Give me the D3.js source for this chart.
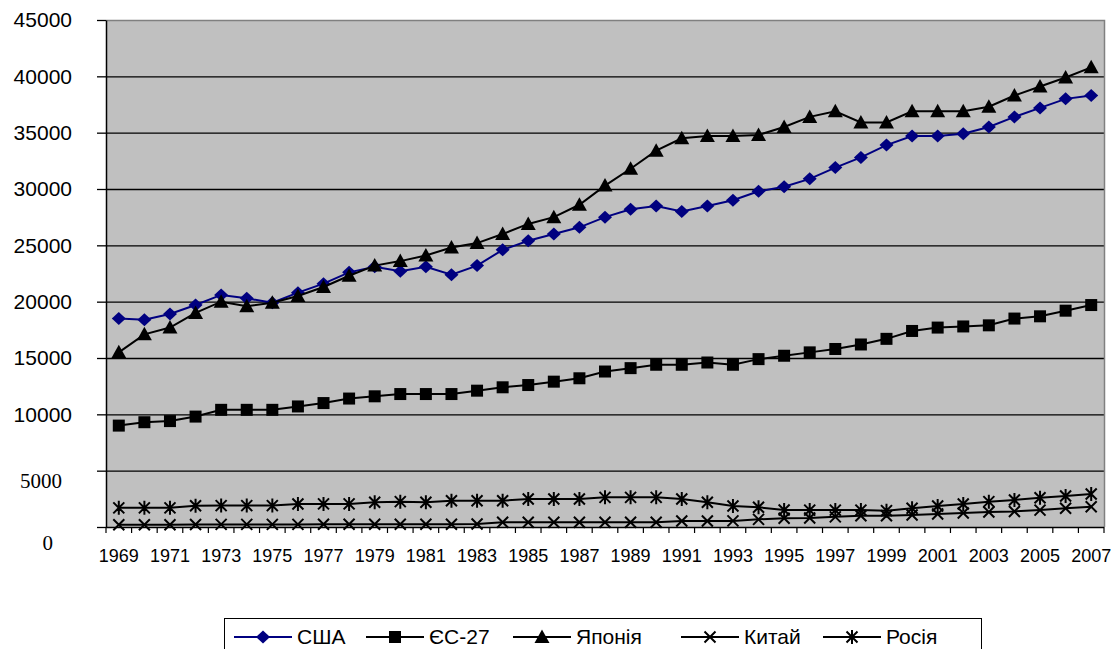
<!DOCTYPE html>
<html>
<head>
<meta charset="utf-8">
<script src="https://cdn.jsdelivr.net/npm/d3@7"></script>
<style>
  body { margin: 0; background: #fff; }
  svg { display: block; }
</style>
</head>
<body>
<div id="chart"></div>
<script>
//years on the category axis
var years = d3.range(1969, 2008);

//series values
var usa = [18500, 18400, 18900, 19700, 20600, 20300, 19900, 20800, 21600, 22600,
  23100, 22700, 23100, 22400, 23200, 24600, 25400, 26000, 26600, 27500,
  28200, 28500, 28000, 28500, 29000, 29800, 30200, 30900, 31900, 32800,
  33900, 34700, 34700, 34900, 35500, 36400, 37200, 38000, 38300];
var eu27 = [9000, 9300, 9400, 9800, 10400, 10400, 10400, 10700, 11000, 11400,
  11600, 11800, 11800, 11800, 12100, 12400, 12600, 12900, 13200, 13800,
  14100, 14400, 14400, 14600, 14400, 14900, 15200, 15500, 15800, 16200,
  16700, 17400, 17700, 17800, 17900, 18500, 18700, 19200, 19700];
var japan = [15500, 17100, 17700, 19000, 20000, 19600, 19900, 20500, 21300, 22300,
  23200, 23600, 24100, 24800, 25200, 26000, 26900, 27500, 28600, 30300,
  31800, 33400, 34500, 34700, 34700, 34800, 35500, 36400, 36900, 35900,
  35900, 36900, 36900, 36900, 37300, 38300, 39100, 39900, 40800];
var china = [200, 200, 200, 220, 230, 230, 230, 230, 240, 240,
  240, 240, 240, 240, 260, 420, 420, 420, 420, 420,
  420, 420, 530, 530, 540, 680, 770, 800, 900, 1000,
  1000, 1060, 1150, 1240, 1330, 1380, 1500, 1660, 1800];
var russia = [1700, 1700, 1700, 1890, 1900, 1900, 1900, 2040, 2050, 2050,
  2190, 2250, 2190, 2330, 2330, 2330, 2490, 2490, 2490, 2630,
  2630, 2630, 2490, 2190, 1860, 1750, 1510, 1500, 1500, 1500,
  1450, 1660, 1860, 2040, 2250, 2400, 2600, 2750, 2930];

var seriesNames = ["США", "ЄС-27", "Японія", "Китай", "Росія"];
var yTicks = [0, 5000, 10000, 15000, 20000, 25000, 30000, 35000, 40000, 45000];

//one entry per series: values + how it is drawn
var series = [
  {name: seriesNames[0], values: usa, color: "#000080", symbol: "diamond"},
  {name: seriesNames[1], values: eu27, color: "#000000", symbol: "square"},
  {name: seriesNames[2], values: japan, color: "#000000", symbol: "triangle"},
  {name: seriesNames[3], values: china, color: "#000000", symbol: "cross"},
  {name: seriesNames[4], values: russia, color: "#000000", symbol: "star"}
];

var W = 1115, H = 649;
var plot = {left: 106, right: 1104, top: 20, bottom: 527};

var svg = d3.select("#chart").append("svg")
  .attr("width", W)
  .attr("height", H);

var x = d3.scaleBand()
  .domain(years)
  .range([plot.left, plot.right]);

var y = d3.scaleLinear()
  .domain([0, 45000])
  .range([plot.bottom, plot.top]);

function cx(i) { return x(years[i]) + x.bandwidth() / 2; }

//plot background
svg.append("rect")
  .attr("x", plot.left)
  .attr("y", plot.top)
  .attr("width", plot.right - plot.left)
  .attr("height", plot.bottom - plot.top)
  .attr("fill", "#c0c0c0");

//gridlines
svg.append("g").attr("class", "grid")
  .selectAll("line")
  .data(yTicks.filter(function(d) { return d > 0 && d < 45000; }))
  .enter()
  .append("line")
  .attr("x1", plot.left)
  .attr("x2", plot.right)
  .attr("y1", function(d) { return y(d) + 0.5; })
  .attr("y2", function(d) { return y(d) + 0.5; })
  .attr("stroke", "#000")
  .attr("stroke-width", 1.3);

//top and right border of the plot area
svg.append("path")
  .attr("d", "M" + plot.left + "," + (plot.top + 0.5) + "H" + (plot.right + 0.5) + "V" + plot.bottom)
  .attr("fill", "none")
  .attr("stroke", "#808080")
  .attr("stroke-width", 1.5);

//y axis
var yAxis = svg.append("g")
  .attr("transform", "translate(" + plot.left + ",0)")
  .call(d3.axisLeft(y).tickValues(yTicks).tickSize(9).tickSizeOuter(0).tickFormat(d3.format("d")));

yAxis.select(".domain").attr("stroke", "#000").attr("stroke-width", 1.5);
yAxis.selectAll(".tick line").attr("stroke", "#000").attr("stroke-width", 1.3);
yAxis.selectAll(".tick text")
  .attr("x", -34)
  .attr("fill", "#000")
  .style("font-family", "'Liberation Sans', Arial, sans-serif")
  .style("font-size", "21px");

//the two lowest labels are set in a serif face and sit lower, as in the original
yAxis.selectAll(".tick text")
  .filter(function(d) { return d <= 5000; })
  .style("font-family", "'Liberation Serif', 'Times New Roman', serif")
  .style("font-size", "21px")
  .attr("x", function(d) { return d === 0 ? -53 : -44; })
  .attr("dy", function(d) { return d === 0 ? "1.08em" : "0.82em"; });

//x axis: ticks at the category boundaries
var xAxis = svg.append("g")
  .attr("transform", "translate(0," + plot.bottom + ")");

xAxis.append("line")
  .attr("x1", plot.left)
  .attr("x2", plot.right)
  .attr("y1", 0.5)
  .attr("y2", 0.5)
  .attr("stroke", "#000")
  .attr("stroke-width", 1.5);

xAxis.selectAll("line.tick")
  .data(years.concat([2008]))
  .enter()
  .append("line")
  .attr("class", "tick")
  .attr("x1", function(d, i) { return plot.left + i * x.bandwidth(); })
  .attr("x2", function(d, i) { return plot.left + i * x.bandwidth(); })
  .attr("y1", 0)
  .attr("y2", 6)
  .attr("stroke", "#000")
  .attr("stroke-width", 1.2);

xAxis.selectAll("text")
  .data(years.filter(function(d, i) { return i % 2 === 0; }))
  .enter()
  .append("text")
  .attr("x", function(d) { return x(d) + x.bandwidth() / 2; })
  .attr("y", 29)
  .attr("dy", "0.35em")
  .attr("text-anchor", "middle")
  .style("font-family", "'Liberation Sans', Arial, sans-serif")
  .style("font-size", "18px")
  .text(function(d) { return d; });

//draw a marker of the given kind centred on 0,0
function drawSymbol(g, kind, color) {
  switch (kind) {
    case "diamond":
      g.append("path").attr("d", "M0,-6.5L7,0L0,6.5L-7,0Z").attr("fill", color);
      break;
    case "square":
      g.append("rect").attr("x", -6).attr("y", -6).attr("width", 12).attr("height", 12).attr("fill", color);
      break;
    case "triangle":
      g.append("path").attr("d", "M0,-7.5L7.5,6L-7.5,6Z").attr("fill", color);
      break;
    case "cross":
      g.append("path").attr("d", "M-5.5,-5.5L5.5,5.5M5.5,-5.5L-5.5,5.5")
        .attr("stroke", color).attr("stroke-width", 2).attr("fill", "none");
      break;
    case "star":
      g.append("path").attr("d", "M-5.5,-5.5L5.5,5.5M5.5,-5.5L-5.5,5.5M0,-7V7")
        .attr("stroke", color).attr("stroke-width", 2).attr("fill", "none");
      break;
  }
}

var line = d3.line()
  .x(function(d, i) { return cx(i); })
  .y(function(d) { return y(d); });

var seriesG = svg.append("g").attr("class", "series")
  .selectAll("g")
  .data(series)
  .enter()
  .append("g");

seriesG.append("path")
  .attr("d", function(d) { return line(d.values); })
  .attr("fill", "none")
  .attr("stroke", function(d) { return d.color; })
  .attr("stroke-width", 2);

seriesG.each(function(s) {
  d3.select(this).selectAll("g.marker")
    .data(s.values)
    .enter()
    .append("g")
    .attr("class", "marker")
    .attr("transform", function(d, i) { return "translate(" + cx(i) + "," + y(d) + ")"; })
    .each(function() { drawSymbol(d3.select(this), s.symbol, s.color); });
});

//legend
var legend = svg.append("g").attr("class", "legend");

legend.append("rect")
  .attr("x", 224.5)
  .attr("y", 618.5)
  .attr("width", 757)
  .attr("height", 45)
  .attr("fill", "#fff")
  .attr("stroke", "#000")
  .attr("stroke-width", 1);

//left edge of each legend entry
var legendX = [234, 366, 513, 681, 823];
var ly = 637;

series.forEach(function(s, i) {
  var item = legend.append("g").attr("transform", "translate(" + legendX[i] + "," + ly + ")");
  item.append("line")
    .attr("x1", 0).attr("x2", 58)
    .attr("stroke", s.color).attr("stroke-width", 2);
  drawSymbol(item.append("g").attr("transform", "translate(29,0)"), s.symbol, s.color);
  item.append("text")
    .attr("x", 63)
    .attr("dy", "0.35em")
    .style("font-family", "'Liberation Sans', Arial, sans-serif")
    .style("font-size", "21px")
    .text(s.name);
});
</script>
</body>
</html>
